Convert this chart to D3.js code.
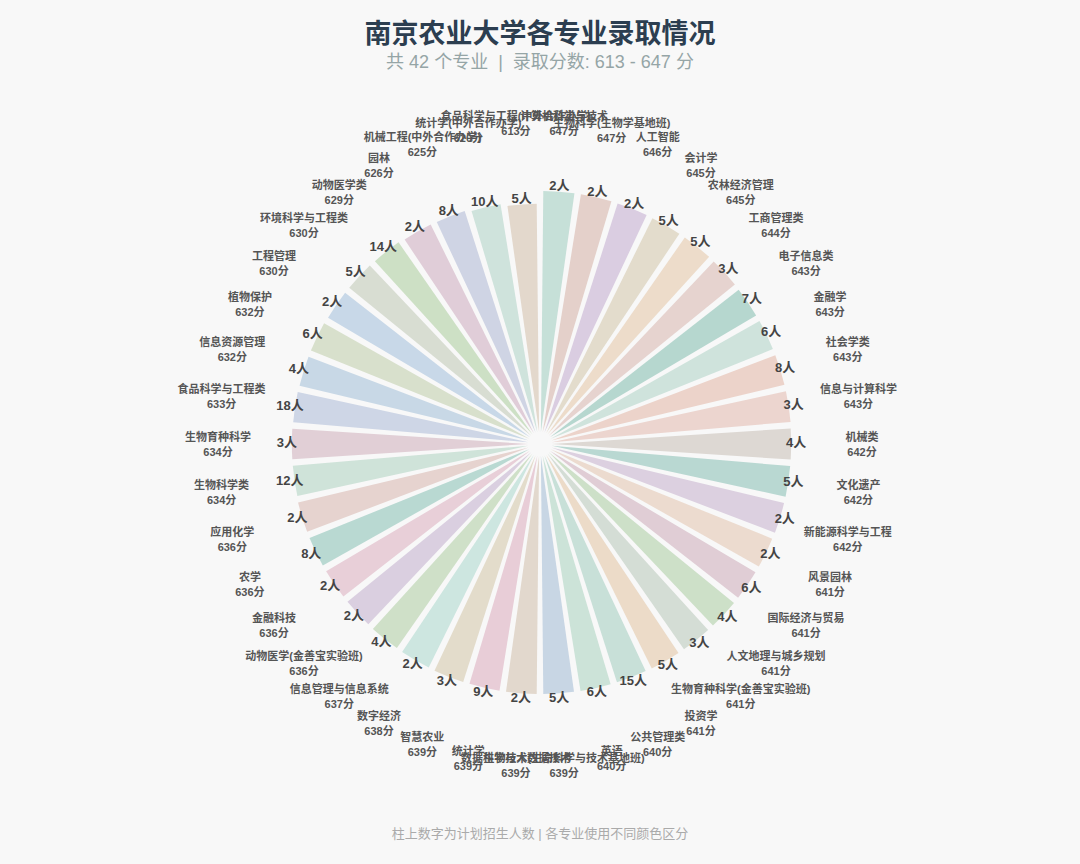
<!DOCTYPE html>
<html>
<head>
<meta charset="utf-8">
<script src="https://cdn.jsdelivr.net/npm/d3@7"></script>
<style>
  body { margin: 0; background: #f8f8f8; font-family: "Liberation Sans", "Noto Sans CJK SC", sans-serif; }
  svg text { font-family: "Liberation Sans", "Noto Sans CJK SC", sans-serif; }
</style>
</head>
<body>
<div id="chart"></div>
<script>
  // majors in clockwise order from 12 o'clock
  var majors = [
    "计算机科学与技术", "生物科学(生物学基地班)", "人工智能", "会计学", "农林经济管理",
    "工商管理类", "电子信息类", "金融学", "社会学类", "信息与计算科学",
    "机械类", "文化遗产", "新能源科学与工程", "风景园林", "国际经济与贸易",
    "人文地理与城乡规划", "生物育种科学(金善宝实验班)", "投资学", "公共管理类", "英语",
    "生物技术(生命科学与技术基地班)", "数据科学与大数据技术", "统计学", "智慧农业", "数字经济",
    "信息管理与信息系统", "动物医学(金善宝实验班)", "金融科技", "农学", "应用化学",
    "生物科学类", "生物育种科学", "食品科学与工程类", "信息资源管理", "植物保护",
    "工程管理", "环境科学与工程类", "动物医学类", "园林", "机械工程(中外合作办学)",
    "统计学(中外合作办学)", "食品科学与工程(中外合作办学)"
  ];
  var scores = [
    647, 647, 646, 645, 645, 644, 643, 643, 643, 643,
    642, 642, 642, 641, 641, 641, 641, 641, 640, 640,
    639, 639, 639, 639, 638, 637, 636, 636, 636, 636,
    634, 634, 633, 632, 632, 630, 630, 629, 626, 625,
    620, 613
  ];
  var counts = [
    2, 2, 2, 5, 5, 3, 7, 6, 8, 3,
    4, 5, 2, 2, 6, 4, 3, 5, 15, 6,
    5, 2, 9, 3, 2, 4, 2, 2, 8, 2,
    12, 3, 18, 4, 6, 2, 5, 14, 2, 8,
    10, 5
  ];

  var palette = [
    "#c6e0d8", "#e4d0ca", "#dacde1", "#e3dccc", "#eddcca", "#e6d3cf", "#b6d7cf",
    "#cfe3dc", "#ecd3ca", "#ecd5cf", "#ddd8d3", "#b9d8d2", "#dcd0e0", "#ecdbcf",
    "#e0cdd5", "#cde0c8", "#d4ddd5", "#ecdbc8", "#c8e0d8", "#cce3d8", "#c8d6e4",
    "#e2d8cd", "#e8cdd7", "#e3dccb", "#cde6e0", "#cfe0c8", "#dacfe0", "#e8cfd8",
    "#b9d9d2", "#e6d3cf", "#cfe3d9", "#e1cfd6", "#ced6e6", "#c8d8e6", "#d8e0cc",
    "#c8d8e8", "#d8ddd2", "#cde0c5", "#e0cdd8", "#cfd4e4", "#cfe3dc", "#e3d8cc"
  ];

  var width = 1080, height = 864;
  var cx = 540, cy = 444;
  var innerR = 12, outerR = 253, labelR = 322;

  var data = majors.map(function (m, i) {
    return { name: m, score: scores[i], count: counts[i], color: palette[i % palette.length] };
  });

  var svg = d3.select("#chart").append("svg")
    .attr("width", width)
    .attr("height", height)
    .style("background", "#f8f8f8");

  // title
  svg.append("text")
    .attr("x", width / 2).attr("y", 43)
    .attr("text-anchor", "middle")
    .attr("font-size", "27px")
    .attr("font-weight", "bold")
    .attr("fill", "#2c3e50")
    .text("南京农业大学各专业录取情况");

  svg.append("text")
    .attr("x", width / 2).attr("y", 68)
    .attr("text-anchor", "middle")
    .attr("font-size", "18px")
    .attr("fill", "#95a5a6")
    .style("white-space", "pre")
    .text("共 " + majors.length + " 个专业  |  录取分数: " + d3.min(scores) + " - " + d3.max(scores) + " 分");

  var x = d3.scaleBand()
    .domain(majors)
    .range([0, 2 * Math.PI])
    .padding(0);

  var y = d3.scaleLinear()
    .domain([0, d3.max(scores)])
    .range([innerR, outerR]);

  var g = svg.append("g").attr("transform", "translate(" + cx + "," + cy + ")");

  var arc = d3.arc()
    .innerRadius(innerR)
    .outerRadius(function (d) { return y(d.score); })
    .startAngle(function (d) { return x(d.name); })
    .endAngle(function (d) { return x(d.name) + x.bandwidth(); })
    .padAngle(0.026)
    .padRadius(outerR);

  g.selectAll("path.bar").data(data).enter()
    .append("path")
    .attr("class", "bar")
    .attr("d", arc)
    .attr("fill", function (d) { return d.color; });

  function mid(d) { return x(d.name) + x.bandwidth() / 2; }

  // counts at the end of each bar
  g.selectAll("text.count").data(data).enter()
    .append("text")
    .attr("class", "count")
    .attr("x", function (d) { return Math.sin(mid(d)) * (y(d.score) + 5); })
    .attr("y", function (d) { return -Math.cos(mid(d)) * (y(d.score) + 5); })
    .attr("text-anchor", "middle")
    .attr("dominant-baseline", "middle")
    .attr("font-size", "13px")
    .attr("font-weight", "bold")
    .attr("fill", "#444")
    .text(function (d) { return d.count + "人"; });

  // major name + score
  var lab = g.selectAll("g.lab").data(data).enter()
    .append("g")
    .attr("class", "lab")
    .attr("transform", function (d) {
      return "translate(" + (Math.sin(mid(d)) * labelR) + "," + (-Math.cos(mid(d)) * labelR) + ")";
    });

  lab.append("text")
    .attr("y", -3)
    .attr("text-anchor", "middle")
    .attr("font-size", "11px")
    .attr("font-weight", "bold")
    .attr("fill", "#555")
    .text(function (d) { return d.name; });

  lab.append("text")
    .attr("y", 12)
    .attr("text-anchor", "middle")
    .attr("font-size", "11px")
    .attr("font-weight", "bold")
    .attr("fill", "#555")
    .text(function (d) { return d.score + "分"; });

  // footer
  svg.append("text")
    .attr("x", width / 2).attr("y", 838)
    .attr("text-anchor", "middle")
    .attr("font-size", "13px")
    .attr("fill", "#aaa")
    .text("柱上数字为计划招生人数 | 各专业使用不同颜色区分");
</script>
</body>
</html>
